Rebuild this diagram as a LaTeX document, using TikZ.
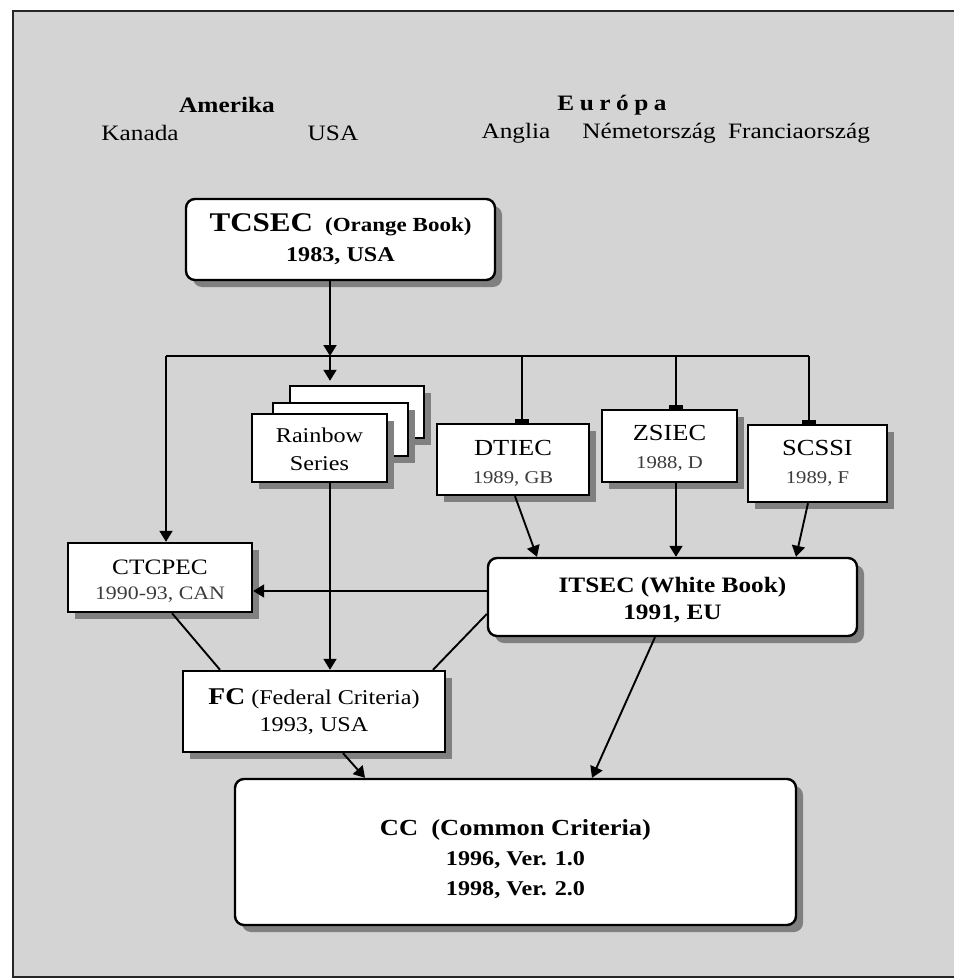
\documentclass[tikz,border=0pt]{standalone}
\usepackage{fontspec}
\setmainfont{Liberation Serif}[FakeStretch=1.15]
\usetikzlibrary{arrows.meta,shadows}
\definecolor{paper}{RGB}{212,212,212}
\definecolor{subtext}{RGB}{60,60,60}
\begin{document}
\begin{tikzpicture}[x=1pt,y=-1pt,
  box/.style={draw=black,line width=2.4pt,fill=white,inner sep=0pt,align=center,
    drop shadow={shadow xshift=7pt,shadow yshift=-7pt,fill=black!50,opacity=1}},
  rbox/.style={box,rounded corners=9pt},
  link/.style={line width=1.9pt},
  arr/.style={link,-{Triangle[width=13pt,length=11pt]}},
  tab/.style={link,-{Rectangle[width=14pt,length=4pt]}},
  head/.style={font=\fontsize{22}{24}\selectfont,inner sep=0pt},
  headb/.style={font=\fontsize{22}{24}\selectfont\bfseries,inner sep=0pt},
  small/.style={font=\fontsize{21}{28}\selectfont}
]
\useasboundingbox (0,0) rectangle (954,979);
% page and framed panel
\fill[white] (0,0) rectangle (954,979);
\fill[paper] (13,11) rectangle (954,977);
\draw[line width=2.4pt,black!85] (954,11) -- (13,11) -- (13,977) -- (954,977);

% region headings
\node[headb] (amerika) at (227,105) {Amerika};
\node[headb] (europa) at (612,105) {\addfontfeatures{LetterSpace=25}Európa};
\node[head] (kanada) at (140,133) {Kanada};
\node[head] (usa) at (333,133) {USA};
\node[head] (anglia) at (516,133) {Anglia};
\node[head] (nemet) at (649,133) {Németország};
\node[head] (francia) at (799,133) {Franciaország};

% standards
\node[rbox,minimum width=309pt,minimum height=81pt,font=\fontsize{21}{30}\selectfont\bfseries]
  (tcsec) at (340.5,239.5) {{\fontsize{27}{30}\selectfont TCSEC}\ \ {\fontsize{20}{30}\selectfont (Orange Book)}\\1983, USA};

\node[box,minimum width=134pt,minimum height=52pt] (rb3) at (357,412) {};
\node[box,minimum width=135pt,minimum height=53pt] (rb2) at (340.5,429.5) {};
\node[box,minimum width=135pt,minimum height=68pt,small] (rb1) at (319.5,448) {\rule{0pt}{18pt}Rainbow\\Series};

\node[box,minimum width=152pt,minimum height=71pt,font=\fontsize{23}{28}\selectfont]
  (dtiec) at (513,459.5) {\rule{0pt}{22pt}DTIEC\\{\fontsize{18}{28}\selectfont\color{subtext}1989, GB}};
\node[box,minimum width=135pt,minimum height=72pt,font=\fontsize{23}{28}\selectfont]
  (zsiec) at (669.5,446) {\rule{0pt}{20pt}ZSIEC\\{\fontsize{18}{26}\selectfont\color{subtext}1988, D}};
\node[box,minimum width=139pt,minimum height=77pt,font=\fontsize{23}{28}\selectfont]
  (scssi) at (817.5,463.5) {SCSSI\\{\fontsize{18}{26}\selectfont\color{subtext}1989, F}};

\node[box,minimum width=184pt,minimum height=69pt,font=\fontsize{22}{25}\selectfont]
  (ctcpec) at (160,577.5) {\rule{0pt}{22pt}CTCPEC\\{\fontsize{19}{25}\selectfont\color{subtext}1990-93, CAN}};

\node[rbox,minimum width=369pt,minimum height=78pt,font=\fontsize{22}{27}\selectfont\bfseries]
  (itsec) at (672.5,597) {\rule{0pt}{22pt}ITSEC (White Book)\\1991, EU};

\node[box,minimum width=262pt,minimum height=81pt,font=\fontsize{21}{27}\selectfont]
  (fc) at (314,711.5) {{\fontsize{24}{27}\selectfont\bfseries FC} (Federal Criteria)\\1993, USA};

\node[rbox,minimum width=561pt,minimum height=146pt,font=\fontsize{21}{30}\selectfont\bfseries]
  (cc) at (515.5,852) {\rule{0pt}{30pt}{\fontsize{23}{30}\selectfont CC\ \ (Common Criteria)}\\1996, Ver. 1.0\\1998, Ver. 2.0};

% distribution bus
\coordinate (busL) at (166,356);
\coordinate (busT) at (330,356);
\coordinate (dropD) at (522,356);
\coordinate (dropZ) at (676,356);
\coordinate (busR) at (809,356);
\draw[link] (busL) -- (busR);
\draw[arr] (tcsec.south -| busT) -- (busT);
\draw[arr] (busT) -- ([yshift=4pt]rb3.north -| busT);
\draw[arr] (busL) -- (ctcpec.north -| busL);
\draw[tab] (dropD) -- (dtiec.north -| dropD);
\draw[tab] (dropZ) -- (zsiec.north -| dropZ);
\draw[tab] (busR) -- (scssi.north -| busR);

% influences
\draw[arr] ([xshift=2pt]dtiec.south) -- ([xshift=-135.5pt]itsec.north);
\draw[arr] (zsiec.south -| dropZ) -- (itsec.north -| dropZ);
\draw[arr] ([xshift=-9.5pt]scssi.south) -- ([xshift=123.5pt]itsec.north);
\draw[arr] ([yshift=6pt]itsec.west) -- ([yshift=6pt]itsec.west -| ctcpec.east);
\draw[arr] (rb1.south -| busT) -- (fc.north -| busT);
\draw[link] ([xshift=12pt]ctcpec.south) -- ([xshift=-94pt]fc.north);
\draw[link] ([yshift=-17pt]itsec.west) -- ([xshift=119pt]fc.north);
\draw[arr] ([xshift=29pt]fc.south) -- ([xshift=-150.5pt]cc.north);
\draw[arr] ([xshift=-17.5pt]itsec.south) -- ([xshift=76.5pt]cc.north);
\end{tikzpicture}
\end{document}
